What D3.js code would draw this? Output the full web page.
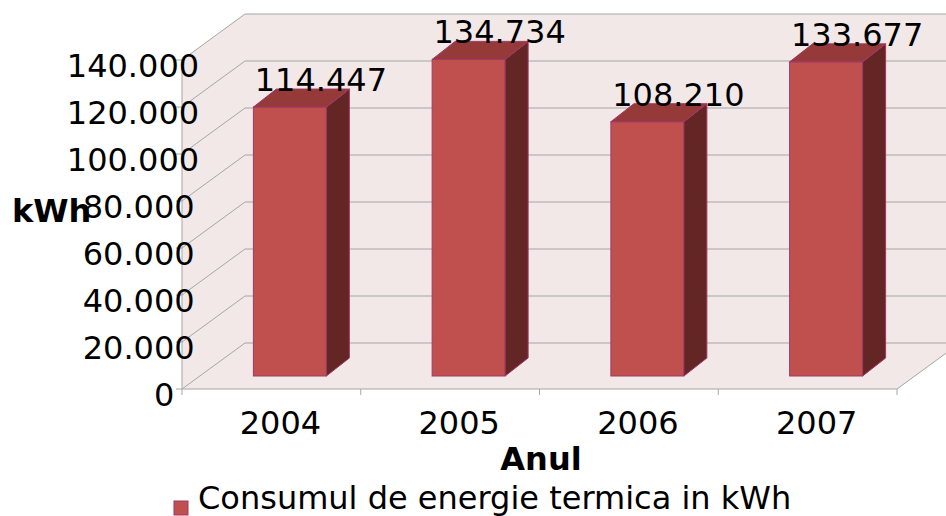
<!DOCTYPE html>
<html>
<head>
<meta charset="utf-8">
<script src="https://cdn.jsdelivr.net/npm/d3@7"></script>
<style>
  body { margin: 0; background: #fff; }
  text { font-family: "DejaVu Sans", Verdana, sans-serif; }
</style>
</head>
<body>
<script>
// DATA
var years = ["2004", "2005", "2006", "2007"];
var consum = [114447, 134734, 108210, 133677];
var yTicks = [0, 20000, 40000, 60000, 80000, 100000, 120000, 140000];
var seriesName = "Consumul de energie termica in kWh";
var yTitle = "kWh";
var xTitle = "Anul";

var w = 946, h = 516;
var fs = "32px";

// number format with "." as thousands separator
var ro = d3.formatLocale({decimal: ",", thousands: ".", grouping: [3], currency: ["", ""]});
var fmt = ro.format(",d");

// 3d box: front plane + depth shift
var depthX = 63, depthY = -46;
var x = d3.scaleBand().domain(years).range([182, 897]);
var y = d3.scaleLinear().domain([0, 140000]).range([389, 60]);

var wallFill = "#f2e8e8";
var gridCol = "#a6a6a6";

var svg = d3.select("body").append("svg")
    .attr("width", w)
    .attr("height", h);

var x0 = x.range()[0], x1 = x.range()[1];
var y0 = y(0), yTop = y(140000);

function pts(a) { return a.map(function(p) { return p.join(","); }).join(" "); }

// walls
svg.append("polygon") // back wall
   .attr("points", pts([[x0 + depthX, yTop + depthY], [x1 + depthX, yTop + depthY],
                        [x1 + depthX, y0 + depthY], [x0 + depthX, y0 + depthY]]))
   .attr("fill", wallFill);
svg.append("polygon") // side wall
   .attr("points", pts([[x0, yTop], [x0 + depthX, yTop + depthY],
                        [x0 + depthX, y0 + depthY], [x0, y0]]))
   .attr("fill", wallFill);
svg.append("polygon") // floor
   .attr("points", pts([[x0, y0], [x0 + depthX, y0 + depthY],
                        [x1 + depthX, y0 + depthY], [x1, y0]]))
   .attr("fill", wallFill);

// gridlines (side + back wall)
svg.selectAll("path.grid")
   .data(yTicks)
   .enter()
   .append("path")
   .attr("class", "grid")
   .attr("d", function(d) {
       return "M" + x0 + "," + y(d) + "L" + (x0 + depthX) + "," + (y(d) + depthY) +
              "L" + (x1 + depthX) + "," + (y(d) + depthY);
   })
   .attr("fill", "none")
   .attr("stroke", gridCol)
   .attr("stroke-width", 1);

// front edge of floor + right floor edge
svg.append("path")
   .attr("d", "M" + x0 + "," + y0 + "L" + x1 + "," + y0 + "L" + (x1 + depthX) + "," + (y0 + depthY))
   .attr("fill", "none")
   .attr("stroke", gridCol);

// value axis line + ticks
svg.append("line")
   .attr("x1", x0).attr("x2", x0)
   .attr("y1", yTop).attr("y2", y0)
   .attr("stroke", gridCol);
svg.selectAll("line.ytick")
   .data(yTicks)
   .enter()
   .append("line")
   .attr("class", "ytick")
   .attr("x1", x0 - 6).attr("x2", x0)
   .attr("y1", function(d) { return y(d); })
   .attr("y2", function(d) { return y(d); })
   .attr("stroke", gridCol);

// category ticks
var bandEdges = years.map(function(d) { return x(d); }).concat([x1]);
svg.selectAll("line.xtick")
   .data(bandEdges)
   .enter()
   .append("line")
   .attr("class", "xtick")
   .attr("x1", function(d) { return d; })
   .attr("x2", function(d) { return d; })
   .attr("y1", y0).attr("y2", y0 + 6)
   .attr("stroke", gridCol);

// y labels
svg.selectAll("text.ylab")
   .data(yTicks)
   .enter()
   .append("text")
   .attr("class", "ylab")
   .attr("font-size", fs)
   .attr("fill", "#000")
   .attr("y", function(d) { return y(d) + 16.5; })
   .text(function(d) { return fmt(d); })
   .attr("x", function(d) {
       var len = this.getComputedTextLength();
       return 170 - 0.78 * len;
   });

// x labels
svg.selectAll("text.xlab")
   .data(years)
   .enter()
   .append("text")
   .attr("class", "xlab")
   .attr("font-size", fs)
   .attr("text-anchor", "middle")
   .attr("x", function(d) { return x(d) + x.bandwidth() / 2 + 9; })
   .attr("y", 434)
   .text(function(d) { return d; });

// BARS
var barW = 73, frontDx = 18.5, frontDy = -13, barDx = 23, barDy = -18;
var bars = svg.selectAll("g.bar")
   .data(consum)
   .enter()
   .append("g")
   .attr("class", "bar");

function barGeom(d, i) {
    var cx = x(years[i]) + x.bandwidth() / 2 + frontDx;
    return {l: cx - barW / 2, r: cx + barW / 2, b: y(0) + frontDy, t: y(d) + frontDy, cx: cx};
}

bars.append("rect")
    .attr("x", function(d, i) { return barGeom(d, i).l; })
    .attr("y", function(d, i) { return barGeom(d, i).t; })
    .attr("width", barW)
    .attr("height", function(d, i) { var g = barGeom(d, i); return g.b - g.t; })
    .attr("fill", "#c0504d")
    .attr("stroke", "#a03868")
    .attr("stroke-width", 1);

bars.append("polygon")
    .attr("points", function(d, i) {
        var g = barGeom(d, i);
        return pts([[g.r, g.b], [g.r + barDx, g.b + barDy], [g.r + barDx, g.t + barDy], [g.r, g.t]]);
    })
    .attr("fill", "#632624")
    .attr("stroke", "#a03868")
    .attr("stroke-width", 1);

bars.append("polygon")
    .attr("points", function(d, i) {
        var g = barGeom(d, i);
        return pts([[g.l, g.t], [g.l + barDx, g.t + barDy], [g.r + barDx, g.t + barDy], [g.r, g.t]]);
    })
    .attr("fill", "#953a38")
    .attr("stroke", "#a03868")
    .attr("stroke-width", 1);

// value labels
svg.selectAll("text.val")
   .data(consum)
   .enter()
   .append("text")
   .attr("class", "val")
   .attr("font-size", fs)
   .attr("text-anchor", "middle")
   .attr("x", function(d, i) { return barGeom(d, i).cx + 31; })
   .attr("y", function(d, i) { return barGeom(d, i).t - 16; })
   .text(function(d) { return fmt(d); });

// axis titles
svg.append("text")
   .attr("font-size", fs)
   .attr("font-weight", "bold")
   .attr("x", 12)
   .attr("y", 222)
   .text(yTitle);

svg.append("text")
   .attr("font-size", fs)
   .attr("font-weight", "bold")
   .attr("text-anchor", "middle")
   .attr("x", 541)
   .attr("y", 470)
   .text(xTitle);

// legend
svg.append("rect")
   .attr("x", 174).attr("y", 501)
   .attr("width", 14).attr("height", 14)
   .attr("fill", "#c0504d")
   .attr("stroke", "#a03868");
svg.append("text")
   .attr("font-size", fs)
   .attr("x", 198)
   .attr("y", 509)
   .text(seriesName);
</script>
</body>
</html>
